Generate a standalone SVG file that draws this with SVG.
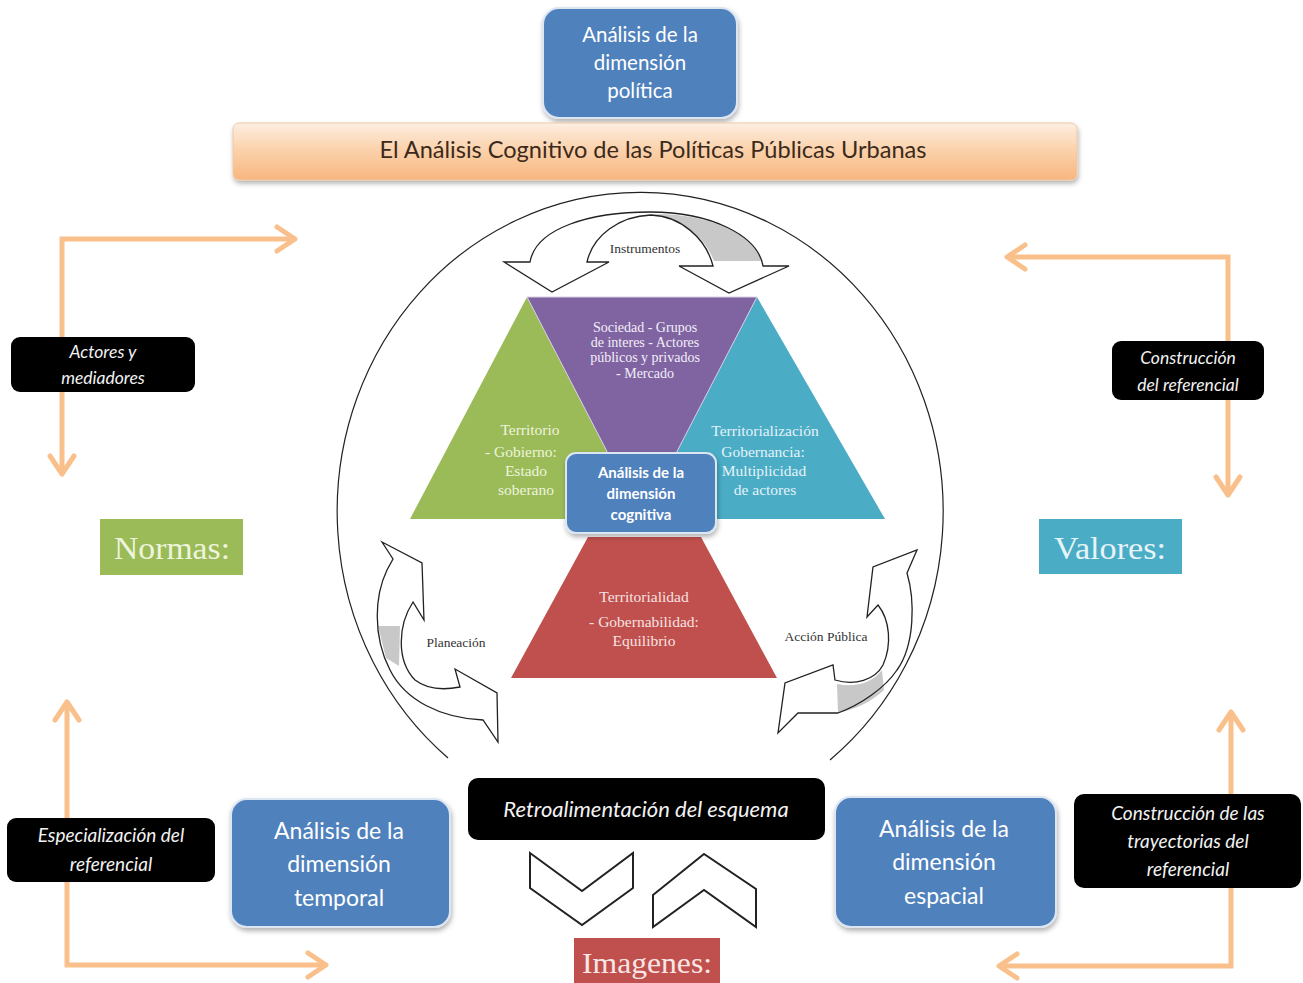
<svg xmlns="http://www.w3.org/2000/svg" width="1303" height="983" viewBox="0 0 1303 983">
<defs>
<style>
.cal{font-family:Lato,"Open Sans","Liberation Sans",sans-serif;}
.ser{font-family:"Liberation Serif","DejaVu Serif",serif;}
.blue{fill:#4f81bd;stroke:#dce6f2;stroke-width:2;}
.blk{fill:#000;}
.wt{fill:#fff;text-anchor:middle;}
.it{font-style:italic;fill:#f2f2f2;text-anchor:middle;}
.orange{fill:none;stroke:#f9c08c;stroke-width:5;stroke-linejoin:miter;marker-start:url(#chev);marker-end:url(#chev);}
.curv{fill:#fff;stroke:none;}
.edge{fill:none;stroke:#222;stroke-width:1.3;stroke-linejoin:miter;}
.gray{fill:#c8c8c8;stroke:none;}
.lbl{font-size:13.5px;fill:#333;text-anchor:middle;}
.tri{font-size:15.5px;text-anchor:middle;}
</style>
<linearGradient id="banner" x1="0" y1="0" x2="0" y2="1">
<stop offset="0" stop-color="#fdeee2"/>
<stop offset="0.45" stop-color="#fbd3ad"/>
<stop offset="1" stop-color="#f8b67f"/>
</linearGradient>
<filter id="sh" x="-10%" y="-10%" width="125%" height="130%">
<feDropShadow dx="1" dy="3" stdDeviation="2.5" flood-color="#000" flood-opacity="0.3"/>
</filter>
<marker id="chev" viewBox="0 0 24 30" refX="21" refY="15" markerWidth="24" markerHeight="30" markerUnits="userSpaceOnUse" orient="auto-start-reverse">
<path d="M3,3 L21,15 L3,27" fill="none" stroke="#f9c08c" stroke-width="5" stroke-linecap="round" stroke-linejoin="round"/>
</marker>
</defs>
<rect x="0" y="0" width="1303" height="983" fill="#fff"/>

<g id="ring">
<path d="M 448,758 A 303 319 0 1 1 830,760" fill="none" stroke="#222" stroke-width="1.2"/>
</g>

<g id="n-politica">
<rect class="blue" x="543" y="8" width="194" height="110" rx="16" filter="url(#sh)"/>
<text class="cal wt" font-size="20.5" x="640" y="42">Análisis de la</text>
<text class="cal wt" font-size="20.5" x="640" y="70">dimensión</text>
<text class="cal wt" font-size="20.5" x="640" y="98">política</text>
</g>

<g id="n-banner">
<rect x="233" y="123" width="844" height="57" rx="6" fill="url(#banner)" stroke="#efc9a4" stroke-width="1" filter="url(#sh)"/>
<text class="cal" font-size="23" x="653" y="158" text-anchor="middle" fill="#3b2a1c" textLength="547" lengthAdjust="spacingAndGlyphs">El Análisis Cognitivo de las Políticas Públicas Urbanas</text>
</g>

<g id="connectors">
<path class="orange" d="M 62,474 L 62,239 L 295,239"/>
<path class="orange" d="M 1007,257 L 1228,257 L 1228,495"/>
<path class="orange" d="M 67,702 L 67,965 L 326,965"/>
<path class="orange" d="M 1231,712 L 1231,966 L 999,966"/>
</g>

<g id="n-actores">
<rect class="blk" x="11" y="337" width="184" height="55" rx="9"/>
<text class="cal it" font-size="17.5" x="103" y="358">Actores y</text>
<text class="cal it" font-size="17.5" x="103" y="384">mediadores</text>
</g>

<g id="n-construccion">
<rect class="blk" x="1112" y="341" width="152" height="59" rx="9"/>
<text class="cal it" font-size="17.5" x="1188" y="364">Construcción</text>
<text class="cal it" font-size="17.5" x="1188" y="391">del referencial</text>
</g>

<g id="n-normas">
<rect x="100" y="519" width="143" height="56" fill="#9bbb59"/>
<text class="ser" font-size="32" x="172" y="559" text-anchor="middle" fill="#eef4dc" textLength="116" lengthAdjust="spacingAndGlyphs">Normas:</text>
</g>

<g id="n-valores">
<rect x="1039" y="519" width="143" height="55" fill="#4bacc6"/>
<text class="ser" font-size="32" x="1110" y="559" text-anchor="middle" fill="#e6f4f8" textLength="112" lengthAdjust="spacingAndGlyphs">Valores:</text>
</g>

<g id="n-territorio">
<polygon points="527,297 410,519 645,519" fill="#9bbb59"/>
<text class="ser tri" fill="#eef4dc" x="530" y="435">Territorio</text>
<text class="ser tri" fill="#eef4dc" x="521" y="457">- Gobierno:</text>
<text class="ser tri" fill="#eef4dc" x="526" y="476">Estado</text>
<text class="ser tri" fill="#eef4dc" x="526" y="495">soberano</text>
</g>
<g id="n-territorializacion">
<polygon points="757,297 640,519 885,519" fill="#4bacc6"/>
<text class="ser tri" fill="#e4f3f8" x="765" y="436">Territorialización</text>
<text class="ser tri" fill="#e4f3f8" x="763" y="457">Gobernancia:</text>
<text class="ser tri" fill="#e4f3f8" x="764" y="476">Multiplicidad</text>
<text class="ser tri" fill="#e4f3f8" x="765" y="495">de actores</text>
</g>
<g id="n-sociedad">
<polygon points="527,297 757,297 642,519" fill="#8064a2" stroke="#d9d0e6" stroke-width="1"/>
<text class="ser" font-size="14" text-anchor="middle" fill="#f3eef8" x="645" y="332">Sociedad - Grupos</text>
<text class="ser" font-size="14" text-anchor="middle" fill="#f3eef8" x="645" y="347">de interes - Actores</text>
<text class="ser" font-size="14" text-anchor="middle" fill="#f3eef8" x="645" y="362">públicos y privados</text>
<text class="ser" font-size="14" text-anchor="middle" fill="#f3eef8" x="645" y="378">- Mercado</text>
</g>
<g id="n-territorialidad">
<polygon points="588,537 701,537 777,678 511,678" fill="#c0504d"/>
<text class="ser tri" fill="#f7e2e1" x="644" y="602">Territorialidad</text>
<text class="ser tri" fill="#f7e2e1" x="644" y="627">- Gobernabilidad:</text>
<text class="ser tri" fill="#f7e2e1" x="644" y="646">Equilibrio</text>
</g>

<g id="n-cognitiva">
<rect class="blue" x="566" y="453" width="150" height="80" rx="10" filter="url(#sh)"/>
<text class="cal wt" font-size="15" font-weight="bold" x="641" y="478">Análisis de la</text>
<text class="cal wt" font-size="15" font-weight="bold" x="641" y="499">dimensión</text>
<text class="cal wt" font-size="15" font-weight="bold" x="641" y="520">cognitiva</text>
</g>

<g id="n-instrumentos">
<path class="curv" d="M 504,262 L 530,262 C 536,228 590,212 650,212 C 712,212 758,236 763,266 L 789,266 L 729,293 L 679,266 L 713,266 C 706,238 680,216 651,215 C 620,216 593,235 587,262 L 609,262 L 552,292 Z"/>
<path class="gray" d="M 656,214 C 712,214 755,236 761,261 L 714,261 C 706,240 688,222 656,214 Z"/>
<path class="edge" d="M 504,262 L 530,262 C 536,228 590,212 650,212 C 712,212 758,236 763,266 L 789,266 L 729,293 L 679,266 L 713,266 C 706,238 680,216 651,215 C 620,216 593,235 587,262 L 609,262 L 552,292 Z"/>
<text class="ser lbl" x="645" y="253">Instrumentos</text>
</g>

<g id="n-planeacion">
<path class="curv" d="M 382,542 L 422,563 L 424,620 L 413,602 C 398,625 396,660 415,680 C 428,690 445,690 460,687 L 455,669 L 497,693 L 498,742 L 483,720 C 440,718 405,700 390,670 C 372,635 375,595 387,570 L 393,559 Z"/>
<path class="gray" d="M 378,626 L 400,626 L 399,666 L 386,658 Z"/>
<path class="edge" d="M 382,542 L 422,563 L 424,620 L 413,602 C 398,625 396,660 415,680 C 428,690 445,690 460,687 L 455,669 L 497,693 L 498,742 L 483,720 C 440,718 405,700 390,670 C 372,635 375,595 387,570 L 393,559 Z"/>
<text class="ser lbl" x="456" y="647">Planeación</text>
</g>

<g id="n-accion">
<path class="curv" d="M 917,550 L 907,573 C 915,600 915,645 897,670 C 885,688 860,705 838,713 L 798,713 L 778,733 L 785,683 L 833,665 L 835,680 C 855,686 875,680 883,665 C 892,645 890,620 878,605 L 867,617 L 873,567 Z"/>
<path class="gray" d="M 837,684 C 855,688 872,683 882,670 L 884,690 C 870,703 855,709 838,713 Z"/>
<path class="edge" d="M 917,550 L 907,573 C 915,600 915,645 897,670 C 885,688 860,705 838,713 L 798,713 L 778,733 L 785,683 L 833,665 L 835,680 C 855,686 875,680 883,665 C 892,645 890,620 878,605 L 867,617 L 873,567 Z"/>
<text class="ser lbl" x="826" y="641">Acción Pública</text>
</g>

<g id="n-especializacion">
<rect class="blk" x="7" y="818" width="208" height="64" rx="9"/>
<text class="cal it" font-size="19" x="111" y="842">Especialización del</text>
<text class="cal it" font-size="19" x="111" y="871">referencial</text>
</g>

<g id="n-temporal">
<rect class="blue" x="231" y="799" width="219" height="128" rx="16" filter="url(#sh)"/>
<text class="cal wt" font-size="23" x="339" y="839">Análisis de la</text>
<text class="cal wt" font-size="23" x="339" y="872">dimensión</text>
<text class="cal wt" font-size="23" x="339" y="906">temporal</text>
</g>

<g id="n-retro">
<rect class="blk" x="468" y="778" width="357" height="62" rx="10"/>
<text class="cal it" font-size="22" x="646" y="817">Retroalimentación del esquema</text>
</g>

<g id="n-chevrons">
<polygon points="530,853 582,891 633,853 633,888 582,925 530,888" fill="#fff" stroke="#222" stroke-width="2"/>
<polygon points="653,895 704,854 756,889 756,927 704,890 653,927" fill="#fff" stroke="#222" stroke-width="2"/>
</g>

<g id="n-imagenes">
<rect x="574" y="938" width="146" height="45" fill="#c0504d"/>
<text class="ser" font-size="30" x="647" y="973" text-anchor="middle" fill="#f8e6e5" textLength="130" lengthAdjust="spacingAndGlyphs">Imagenes:</text>
</g>

<g id="n-espacial">
<rect class="blue" x="835" y="797" width="221" height="130" rx="16" filter="url(#sh)"/>
<text class="cal wt" font-size="23" x="944" y="837">Análisis de la</text>
<text class="cal wt" font-size="23" x="944" y="870">dimensión</text>
<text class="cal wt" font-size="23" x="944" y="904">espacial</text>
</g>

<g id="n-trayectorias">
<rect class="blk" x="1074" y="794" width="227" height="94" rx="10"/>
<text class="cal it" font-size="19" x="1188" y="820">Construcción de las</text>
<text class="cal it" font-size="19" x="1188" y="848">trayectorias del</text>
<text class="cal it" font-size="19" x="1188" y="876">referencial</text>
</g>
</svg>
